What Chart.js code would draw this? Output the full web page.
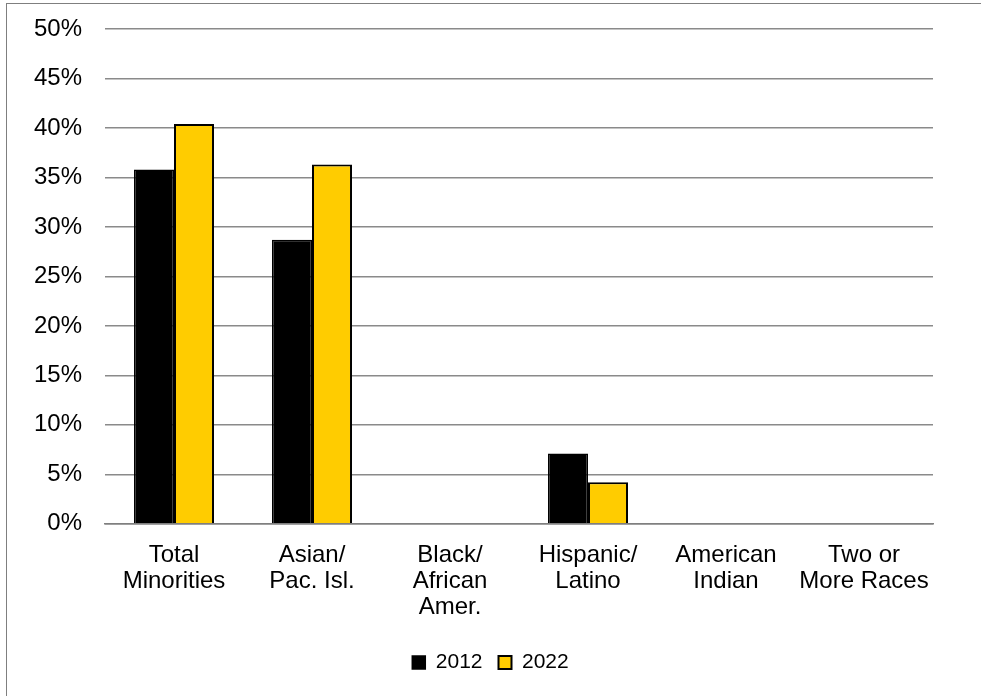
<!DOCTYPE html>
<html>
<head>
<meta charset="utf-8">
<script src="https://cdn.jsdelivr.net/npm/chart.js@4"></script>
<style>
  html, body { margin: 0; padding: 0; background: #fff; overflow: hidden; }
  #wrap { position: relative; width: 981px; height: 696px; }
  #chart { position: absolute; left: 0; top: 0; }
  #frame {
    position: absolute; left: 6px; top: 3px; width: 1000px; height: 720px;
    border: 1.5px solid #7f7f7f; pointer-events: none;
  }
</style>
</head>
<body>
<div id="wrap">
  <canvas id="chart" width="981" height="696"></canvas>
  <div id="frame"></div>
</div>
<script>
const categories = [
    ['Total', 'Minorities'],
    ['Asian/', 'Pac. Isl.'],
    ['Black/', 'African', 'Amer.'],
    ['Hispanic/', 'Latino'],
    ['American', 'Indian'],
    ['Two or', 'More Races']
];
const values2012 = [35.8, 28.7, null, 7.1, null, null];
const values2022 = [40.4, 36.3, null, 4.2, null, null];
const yTicks = [0, 5, 10, 15, 20, 25, 30, 35, 40, 45, 50];

const font = "'Liberation Sans', Arial, sans-serif";

// center the legend on the whole canvas, not just the padded area
const centerLegend = {
    id: 'centerLegend',
    afterLayout(chart) {
        chart.legend.left = 0;
        chart.legend.right = chart.width;
    }
};

const chart_config = {
    type: 'bar',
    data: {
        labels: categories,
        datasets: [{
            label: '2012',
            data: values2012,
            backgroundColor: '#000000',
            borderColor: '#000000',
            borderWidth: 1.5
        }, {
            label: '2022',
            data: values2022,
            backgroundColor: '#ffcc00',
            borderColor: '#000000',
            borderWidth: 2
        }]
    },
    options: {
        responsive: false,
        animation: false,
        devicePixelRatio: 1,
        layout: {
            padding: { top: 29, right: 48, left: 0, bottom: 13 }
        },
        datasets: {
            bar: {
                categoryPercentage: 0.58,
                barPercentage: 1.0
            }
        },
        scales: {
            x: {
                afterFit: (axis) => {
                    axis.height += 5;
                },
                grid: { display: false },
                border: { display: true, color: '#7f7f7f', width: 1.5 },
                ticks: {
                    color: '#000',
                    padding: 10,
                    maxRotation: 0,
                    font: { family: font, size: 24, lineHeight: 1.1 }
                }
            },
            y: {
                min: 0,
                max: 50,
                afterBuildTicks: (axis) => {
                    axis.ticks = yTicks.map(v => ({ value: v }));
                },
                afterFit: (axis) => {
                    axis.width = 105;
                    axis.paddingTop = 0;
                    axis.paddingBottom = 0;
                },
                grid: { color: '#8a8a8a', lineWidth: 1.5, drawTicks: false },
                border: { display: false },
                ticks: {
                    color: '#000',
                    padding: 23,
                    font: { family: font, size: 24 },
                    callback: (v) => v + '%'
                }
            }
        },
        plugins: {
            legend: {
                position: 'bottom',
                labels: {
                    color: '#000',
                    boxWidth: 13,
                    boxHeight: 13,
                    padding: 16,
                    font: { family: font, size: 21 }
                }
            },
            tooltip: { enabled: false }
        }
    },
    plugins: [centerLegend]
};

var chart = new Chart(
    document.getElementById('chart'),
    chart_config
);
</script>
</body>
</html>
